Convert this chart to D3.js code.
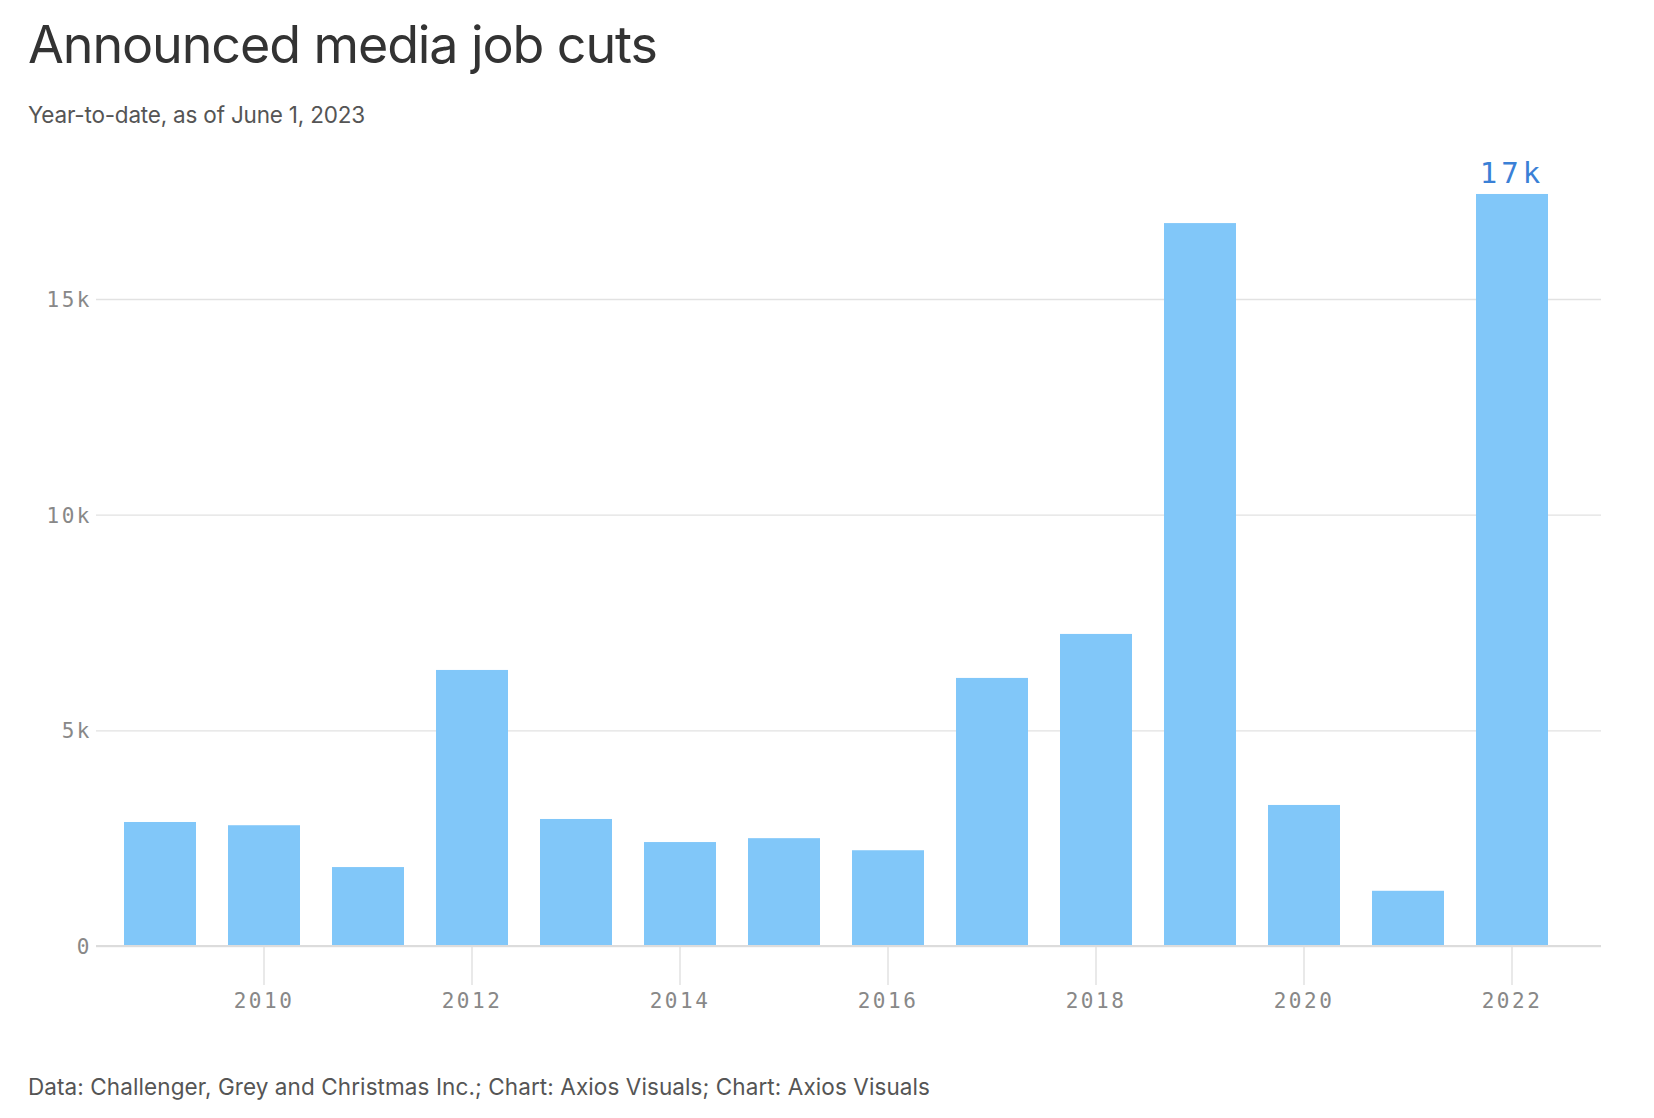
<!DOCTYPE html>
<html>
<head>
<meta charset="utf-8">
<script src="https://cdn.jsdelivr.net/npm/d3@7"></script>
<style>
  html, body { margin: 0; padding: 0; background: #fff; }
  svg { display: block; }
</style>
</head>
<body>
<svg id="chart" width="1654" height="1118"></svg>
<script>
const years = [2009, 2010, 2011, 2012, 2013, 2014, 2015, 2016, 2017, 2018, 2019, 2020, 2021, 2022];
const cuts = [2875, 2800, 1830, 6400, 2945, 2410, 2500, 2220, 6215, 7235, 16760, 3270, 1280, 17435];
const yTicks = [0, 5000, 10000, 15000];
const yTickLabels = ["0", "5k", "10k", "15k"];
const xTickYears = [2010, 2012, 2014, 2016, 2018, 2020, 2022];
const highlightYear = 2022;
const highlightLabel = "17k";

const title = "Announced media job cuts";
const subtitle = "Year-to-date, as of June 1, 2023";
const footer = "Data: Challenger, Grey and Christmas Inc.; Chart: Axios Visuals; Chart: Axios Visuals";

const svg = d3.select("#chart");
const sans = "Inter, 'Noto Sans', Roboto, sans-serif";
const mono = "'DejaVu Sans Mono', 'Liberation Mono', monospace";

const plotLeft = 96, plotRight = 1601;
const y0 = 946;

const x = d3.scaleBand()
  .domain(years)
  .range([108, 108 + 104 * years.length])
  .paddingInner(32 / 104)
  .paddingOuter(16 / 104);

const y = d3.scaleLinear()
  .domain([0, d3.max(cuts)])
  .range([y0, y0 - 43.133 * d3.max(cuts) / 1000]);

// Title etc.
svg.append("text").attr("x", 28).attr("y", 63)
  .attr("font-family", sans).attr("font-size", 52).attr("fill", "#333")
  .attr("letter-spacing", -1.1)
  .text(title);
svg.append("text").attr("x", 28).attr("y", 123)
  .attr("font-family", sans).attr("font-size", 22.5).attr("fill", "#555")
  .attr("letter-spacing", -0.2)
  .text(subtitle);
svg.append("text").attr("x", 28).attr("y", 1095)
  .attr("font-family", sans).attr("font-size", 22.5).attr("fill", "#555")
  .attr("letter-spacing", 0.09)
  .text(footer);

// Gridlines
const yAxis = d3.axisLeft(y)
  .tickValues(yTicks)
  .tickFormat((d, i) => yTickLabels[i])
  .tickSize(-(plotRight - plotLeft))
  .tickPadding(4);

const gy = svg.append("g").attr("transform", `translate(${plotLeft},0)`).call(yAxis);
gy.select(".domain").remove();
gy.selectAll(".tick line").attr("stroke", "#e2e2e2").attr("stroke-width", 1.3);
gy.selectAll(".tick text")
  .attr("font-family", mono).attr("font-size", 21).attr("fill", "#888")
  .attr("letter-spacing", 2.5).attr("dy", "0.36em");

// X axis ticks
const xAxis = d3.axisBottom(x)
  .tickValues(xTickYears)
  .tickSize(39)
  .tickPadding(8);
const gx = svg.append("g").attr("transform", `translate(0,${y0})`).call(xAxis);
gx.select(".domain").remove();
gx.selectAll(".tick line").attr("stroke", "#e2e2e2").attr("stroke-width", 1.5);
gx.selectAll(".tick text")
  .attr("font-family", mono).attr("font-size", 21).attr("fill", "#888")
  .attr("letter-spacing", 2.5);

// Bars
svg.append("g").selectAll("rect").data(years).join("rect")
  .attr("x", d => x(d))
  .attr("width", x.bandwidth())
  .attr("y", (d, i) => y(cuts[i]))
  .attr("height", (d, i) => y0 - y(cuts[i]))
  .attr("fill", "#81c7f9");

// Baseline
svg.append("line")
  .attr("x1", plotLeft).attr("x2", plotRight)
  .attr("y1", y(0)).attr("y2", y(0))
  .attr("stroke", "#dcdcdc").attr("stroke-width", 2);

// Highlight label
const hi = years.indexOf(highlightYear);
svg.append("text")
  .attr("x", x(highlightYear) + x.bandwidth() / 2)
  .attr("y", y(cuts[hi]) - 11)
  .attr("text-anchor", "middle")
  .attr("font-family", mono).attr("font-size", 29).attr("fill", "#3a80d6")
  .attr("letter-spacing", 4)
  .text(highlightLabel);
</script>
</body>
</html>
